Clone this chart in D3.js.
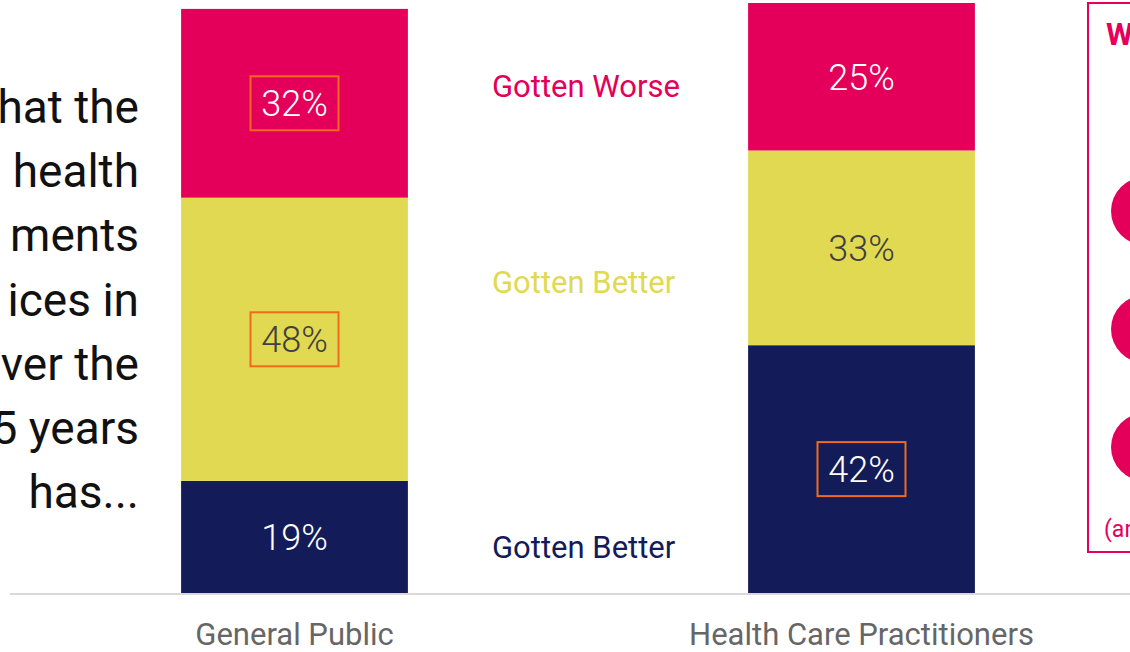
<!DOCTYPE html>
<html>
<head>
<meta charset="utf-8">
<script src="https://cdn.jsdelivr.net/npm/d3@7"></script>
<style>
  html, body { margin: 0; padding: 0; background: #fff; overflow: hidden; }
  svg { display: block; font-family: Roboto, "Noto Sans", sans-serif; }
</style>
</head>
<body>
<div id="app"></div>
<script>
// data
const groups = ["General Public", "Health Care Practitioners"];
const gottenBetter = [19, 42];   // navy, bottom
const stayedSame = [48, 33];     // yellow, middle
const gottenWorse = [32, 25];    // pink, top
const boxed = [["worse", "same"], ["better"]];
const legendLabels = ["Gotten Worse", "Gotten Better", "Gotten Better"];
// only the part of the question that shows on the slide
const questionLines = ["hat the", "health", "ments", "ices in", "ver the", "5 years", "has..."];

const w = 1130, h = 652;
const keys = ["better", "same", "worse"];
const color = { worse: "#e4005a", same: "#e1d951", better: "#131c58" };
const labelColor = { worse: "#ffffff", same: "#404040", better: "#ffffff" };

const rows = groups.map((g, i) => ({
  group: g, better: gottenBetter[i], same: stayedSame[i], worse: gottenWorse[i]
}));

const series = d3.stack().keys(keys)(rows);

const x = d3.scaleBand()
  .domain(groups)
  .range([11, 1145])
  .paddingInner(0.6)
  .paddingOuter(0.3);

const y = d3.scaleLinear()
  .domain([0, 100])
  .range([593, 3]);

const svg = d3.select('#app').append('svg')
  .attr('width', w)
  .attr('height', h)
  .attr('viewBox', [0, 0, w, h]);

//////////QUESTION TEXT//////////
svg.append('g')
  .selectAll('text')
  .data(questionLines)
  .join('text')
  .attr('x', 139)
  .attr('y', (d, i) => 123 + i * 64.2)
  .attr('text-anchor', 'end')
  .attr('font-size', 46)
  .attr('fill', '#111')
  .text(d => d);

//////////BARS//////////
const layer = svg.append('g')
  .selectAll('g')
  .data(series)
  .join('g')
  .attr('fill', d => color[d.key]);

layer.selectAll('rect')
  .data(d => d.map(v => Object.assign(v, { key: d.key })))
  .join('rect')
  .attr('x', d => x(d.data.group))
  .attr('y', d => y(d[1]))
  .attr('width', x.bandwidth())
  .attr('height', d => y(d[0]) - y(d[1]));

// axis baseline
svg.append('line')
  .attr('x1', 10)
  .attr('x2', w)
  .attr('y1', y(0) + 1)
  .attr('y2', y(0) + 1)
  .attr('stroke', '#d9d9d9')
  .attr('stroke-width', 2);

//////////VALUE LABELS//////////
const labels = svg.append('g')
  .selectAll('g')
  .data(series.flatMap(s => s))
  .join('g')
  .attr('transform', d => `translate(${x(d.data.group) + x.bandwidth() / 2},${(y(d[0]) + y(d[1])) / 2})`);

labels.filter(d => boxed[groups.indexOf(d.data.group)].includes(d.key))
  .append('rect')
  .attr('x', -44)
  .attr('y', -27)
  .attr('width', 88)
  .attr('height', 54)
  .attr('fill', 'none')
  .attr('stroke', '#f26b1d')
  .attr('stroke-width', 2);

labels.append('text')
  .attr('text-anchor', 'middle')
  .attr('dy', '0.36em')
  .attr('font-size', 36)
  .attr('font-weight', 300)
  .attr('fill', d => labelColor[d.key])
  .text(d => (d[1] - d[0]) + '%');

//////////GROUP LABELS//////////
svg.append('g')
  .selectAll('text')
  .data(groups)
  .join('text')
  .attr('x', d => x(d) + x.bandwidth() / 2)
  .attr('y', 645)
  .attr('text-anchor', 'middle')
  .attr('font-size', 31)
  .attr('fill', '#666')
  .text(d => d);

//////////LEGEND//////////
const legendKeys = ["worse", "same", "better"];
const legendY = [97, 293, 558];
svg.append('g')
  .selectAll('text')
  .data(legendLabels)
  .join('text')
  .attr('x', 492)
  .attr('y', (d, i) => legendY[i])
  .attr('font-size', 31)
  .attr('fill', (d, i) => color[legendKeys[i]])
  .text(d => d);

//////////SIDE PANEL (cut off at the edge)//////////
const panel = svg.append('g');
panel.append('rect')
  .attr('x', 1088)
  .attr('y', 3)
  .attr('width', 80)
  .attr('height', 549)
  .attr('fill', 'none')
  .attr('stroke', '#e4005a')
  .attr('stroke-width', 2);

panel.append('text')
  .attr('x', 1106)
  .attr('y', 45)
  .attr('font-size', 31)
  .attr('font-weight', 700)
  .attr('fill', '#e4005a')
  .text('W');

panel.selectAll('circle')
  .data([211, 329, 447])
  .join('circle')
  .attr('cx', 1145)
  .attr('cy', d => d)
  .attr('r', 34)
  .attr('fill', '#e4005a');

panel.append('text')
  .attr('x', 1104)
  .attr('y', 537)
  .attr('font-size', 23)
  .attr('fill', '#e4005a')
  .text('(ar');
</script>
</body>
</html>
